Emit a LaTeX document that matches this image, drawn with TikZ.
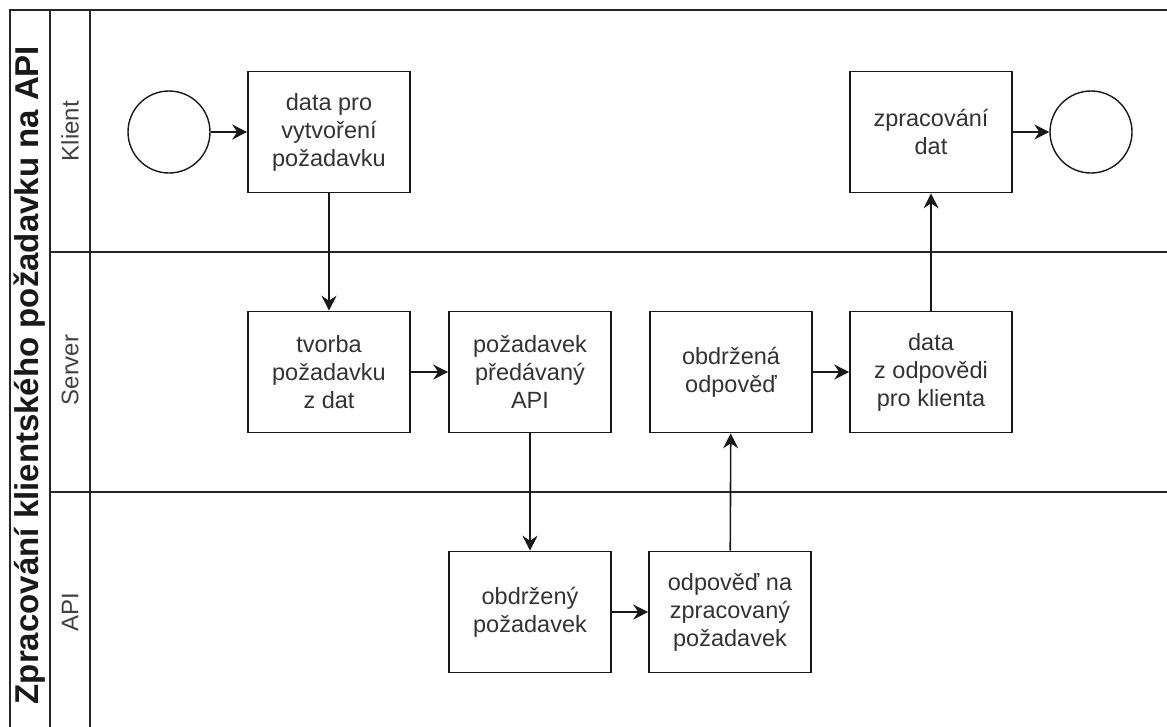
\documentclass[tikz,border=0pt]{standalone}
\usepackage{fontspec}
\setmainfont{Liberation Sans}
\usetikzlibrary{arrows.meta}

\begin{document}
\begin{tikzpicture}[x=1pt,y=-1pt,
  pool/.style={line width=1.6pt, draw=black!85},
  task/.style={draw=black!90, line width=1.6pt, fill=white,
    minimum width=162pt, minimum height=121pt, inner sep=0pt,
    align=center, text=black!80, font=\fontsize{23.5}{28}\selectfont},
  event/.style={circle, draw=black!90, line width=1.4pt, fill=white,
    minimum size=82pt, inner sep=0pt},
  flow/.style={line width=1.6pt, draw=black!90,
    -{Stealth[length=15pt,width=15pt,inset=5pt]}},
  lanelabel/.style={rotate=90, text=black!75, font=\fontsize{24}{28}\selectfont},
]
\path[use as bounding box] (0,0) rectangle (1167,726);
\clip (0,0) rectangle (1167,726);

% pool frame and lanes
\draw[pool] (10,760) -- (10,10) -- (1200,10);
\draw[pool] (50,10) -- (50,760);
\draw[pool] (90,10) -- (90,760);
\draw[pool] (50,252) -- (1200,252);
\draw[pool] (50,492) -- (1200,492);

% pool title and lane names
\node[rotate=90, text=black!90, font=\bfseries\fontsize{33}{36}\selectfont] (title) at (30,375) {Zpracování klientského požadavku na API};
\node[lanelabel] (lklient) at (70,131) {Klient};
\node[lanelabel] (lserver) at (70,370) {Server};
\node[lanelabel] (lapi) at (70,612) {API};

% client lane
\node[event] (start) at (169,132) {};
\node[task] (data) at (329,132) {data pro\\vytvoření\\požadavku};
\node[task] (zprac) at (931,132) {zpracování\\dat};
\node[event] (end) at (1091,132) {};

% server lane
\node[task] (tvorba) at (329,372) {tvorba\\požadavku\\z dat};
\node[task] (predavany) at (530,372) {požadavek\\předávaný\\API};
\node[task] (obdrzena) at (731,372) {obdržená\\odpověď};
\node[task] (zodpovedi) at (931,372) {data\\z odpovědi\\pro klienta};

% API lane
\node[task] (obdrzeny) at (530,612) {obdržený\\požadavek};
\node[task] (odpoved) at (730,612) {odpověď na\\zpracovaný\\požadavek};

% sequence flows
\draw[flow] (start) -- (data);
\draw[flow] (data) -- (tvorba);
\draw[flow] (tvorba) -- (predavany);
\draw[flow] (predavany) -- (obdrzeny);
\draw[flow] (obdrzeny) -- (odpoved);
\draw[flow] (odpoved) -- (obdrzena);
\draw[flow] (obdrzena) -- (zodpovedi);
\draw[flow] (zodpovedi) -- (zprac);
\draw[flow] (zprac) -- (end);
\end{tikzpicture}
\end{document}
